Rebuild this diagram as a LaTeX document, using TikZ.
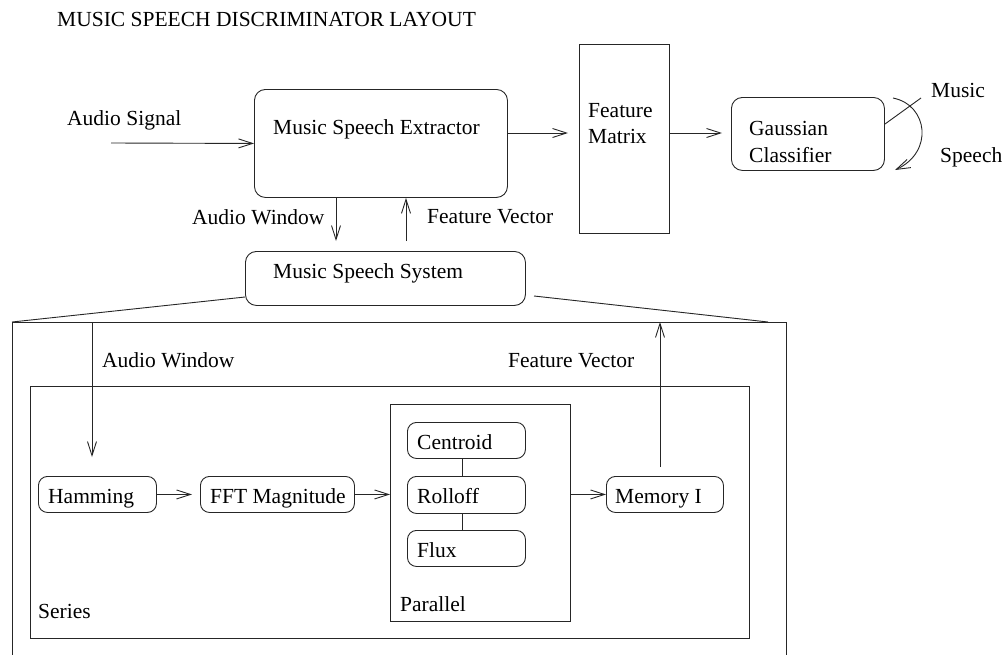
\documentclass[tikz,border=0pt]{standalone}
\usepackage{fontspec}
\setmainfont{Liberation Serif}
\usetikzlibrary{arrows.meta}
\begin{document}
\begin{tikzpicture}[x=1pt,y=-1pt,
  lbl/.style={anchor=base west,inner sep=0pt,font=\fontsize{21.5}{26}\selectfont},
  box/.style={draw=black!85,line width=0.9pt,inner sep=0pt,anchor=north west},
  rbox/.style={box,rounded corners=11pt},
  sbox/.style={box,rounded corners=9pt},
  ln/.style={draw=black!85,line width=0.9pt},
  arr/.style={ln,-{Straight Barb[length=14pt,width=9pt,line width=0.9pt]}}]
\useasboundingbox (0,0) rectangle (1004,654);
% helper coordinates
\coordinate (y133) at (0,133);
\coordinate (x336) at (336,0);
\coordinate (x406) at (406,0);
\coordinate (x92) at (92,0);
\coordinate (x660) at (660,0);
\coordinate (x462) at (462,0);
\coordinate (oTL) at (12,322);
\coordinate (oTR) at (786,322);
\coordinate (oBL) at (12,660);
\coordinate (oBR) at (786,660);
\coordinate (asig) at (111,143);
\coordinate (sysL) at (245,297);
\coordinate (sysR) at (534,296);
\coordinate (oTRl) at (768,322);
\coordinate (musS) at (885,124);
\coordinate (musE) at (921,98);
\coordinate (spS) at (893,98);
\coordinate (spE) at (895,170);
% boxes
\node[rbox,minimum width=253pt,minimum height=108pt] (ext) at (254,89) {};
\node[box,minimum width=90pt,minimum height=189pt] (mat) at (579,44) {};
\node[rbox,minimum width=153pt,minimum height=73pt] (gau) at (731,97) {};
\node[rbox,minimum width=280pt,minimum height=54pt] (sys) at (245,251) {};
\node[box,minimum width=719pt,minimum height=252pt] (ser) at (30,386) {};
\node[box,minimum width=180pt,minimum height=217pt] (par) at (390,404) {};
\node[sbox,minimum width=118pt,minimum height=36pt] (ham) at (38,476) {};
\node[sbox,minimum width=154pt,minimum height=36pt] (fft) at (200,476) {};
\node[sbox,minimum width=118pt,minimum height=36pt] (cen) at (407,422) {};
\node[sbox,minimum width=118pt,minimum height=37pt] (rol) at (407,476) {};
\node[sbox,minimum width=118pt,minimum height=36pt] (flu) at (407,530) {};
\node[sbox,minimum width=117pt,minimum height=36pt] (mem) at (606,476) {};
% outer frame
\draw[ln] (oBL) -- (oTL) -- (oTR) -- (oBR);
% texts
\node[lbl] (title) at (57,26) {MUSIC SPEECH DISCRIMINATOR LAYOUT};
\node[lbl] (tAS) at (67,125) {Audio Signal};
\node[lbl] (tExt) at (273,134) {Music Speech Extractor};
\node[lbl] (tAW1) at (192,224) {Audio Window};
\node[lbl] (tFV1) at (427,223) {Feature Vector};
\node[lbl] (tFe) at (588,117) {Feature};
\node[lbl] (tMa) at (588,143) {Matrix};
\node[lbl] (tGa) at (749,135) {Gaussian};
\node[lbl] (tCl) at (749,162) {Classifier};
\node[lbl] (tMu) at (931,97) {Music};
\node[lbl] (tSp) at (940,162) {Speech};
\node[lbl] (tSys) at (273,278) {Music Speech System};
\node[lbl] (tAW2) at (102,367) {Audio Window};
\node[lbl] (tFV2) at (508,367) {Feature Vector};
\node[lbl] (tHam) at (48,503) {Hamming};
\node[lbl] (tFFT) at (210,503) {FFT Magnitude};
\node[lbl] (tCen) at (417,449) {Centroid};
\node[lbl] (tRol) at (417,503) {Rolloff};
\node[lbl] (tFlu) at (417,557) {Flux};
\node[lbl] (tMem) at (615,503) {Memory I};
\node[lbl] (tSer) at (38,618) {Series};
\node[lbl] (tPar) at (400,611) {Parallel};
% connectors
\draw[arr] (asig) -- (ext.west);
\draw[arr,shorten >=11pt] (ext.east |- y133) -- (mat.west |- y133);
\draw[arr,shorten >=9pt] (mat.east |- y133) -- (gau.west |- y133);
\draw[arr,shorten >=10pt] (ext.south -| x336) -- (sys.north -| x336);
\draw[arr,shorten <=10pt] (sys.north -| x406) -- (ext.south -| x406);
\draw[ln] (sysL) -- (oTL);
\draw[ln] (sysR) -- (oTRl);
\draw[arr,shorten >=19pt] (oTL -| x92) -- (ham.north -| x92);
\draw[arr,shorten >=8pt] (ham.east) -- (fft.west);
\draw[arr] (fft.east) -- (par.west |- fft.east);
\draw[arr] (par.east |- mem.west) -- (mem.west);
\draw[arr,shorten <=9pt] (mem.north -| x660) -- (oTL -| x660);
\draw[ln] (cen.south -| x462) -- (rol.north -| x462);
\draw[ln] (rol.south -| x462) -- (flu.north -| x462);
\draw[ln] (musS) -- (musE);
\draw[arr] (spS) .. controls (928,105) and (934,152) .. (spE);
\end{tikzpicture}
\end{document}
